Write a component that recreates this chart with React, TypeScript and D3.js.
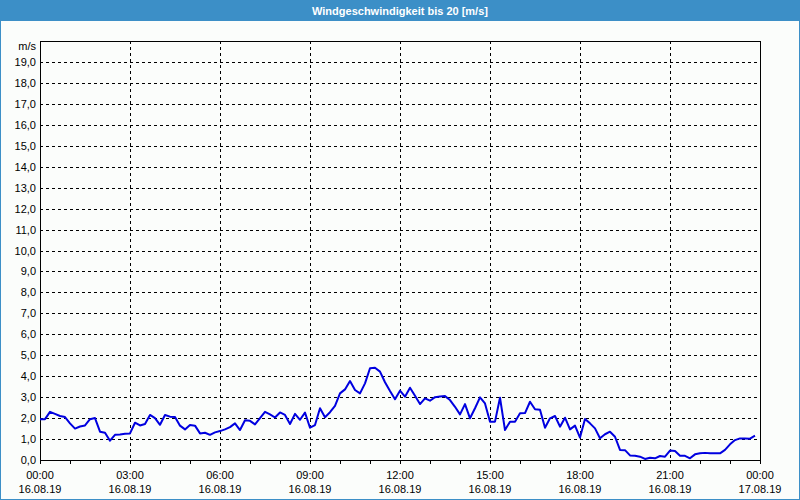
import React from "react";
import * as d3 from "d3";

const TITLE = "Windgeschwindigkeit bis 20 [m/s]";
const UNIT = "m/s";
const Y_TICKS = [0, 1, 2, 3, 4, 5, 6, 7, 8, 9, 10, 11, 12, 13, 14, 15, 16, 17, 18, 19];
const X_LABEL_HOURS = [0, 3, 6, 9, 12, 15, 18, 21, 24];
const X_LABEL_TIMES = ["00:00", "03:00", "06:00", "09:00", "12:00", "15:00", "18:00", "21:00", "00:00"];
const X_LABEL_DATES = ["16.08.19", "16.08.19", "16.08.19", "16.08.19", "16.08.19", "16.08.19", "16.08.19", "16.08.19", "17.08.19"];
const STEP_MINUTES = 10;
const WIND = [
  1.95, 1.95, 2.3, 2.2, 2.1, 2.05, 1.75, 1.5, 1.6, 1.65, 1.95, 2.0,
  1.35, 1.3, 0.92, 1.2, 1.22, 1.25, 1.27, 1.78, 1.65, 1.72, 2.15, 2.0,
  1.68, 2.15, 2.07, 2.05, 1.64, 1.46, 1.67, 1.64, 1.27, 1.3, 1.2, 1.32,
  1.38, 1.46, 1.57, 1.75, 1.43, 1.9, 1.87, 1.7, 2.0, 2.3, 2.18, 2.03,
  2.27, 2.15, 1.72, 2.2, 1.92, 2.26, 1.54, 1.67, 2.47, 2.04, 2.28, 2.58,
  3.18, 3.37, 3.77, 3.34, 3.18, 3.66, 4.38, 4.4, 4.22, 3.71, 3.29, 2.9,
  3.31, 3.02, 3.45, 3.07, 2.67, 2.94, 2.83, 3.0, 3.03, 3.05, 2.86, 2.54,
  2.18, 2.67, 1.99, 2.47, 2.99, 2.7, 1.83, 1.83, 2.97, 1.43, 1.83, 1.83,
  2.23, 2.24, 2.78, 2.42, 2.4, 1.54, 1.99, 2.1, 1.59, 2.02, 1.46, 1.64,
  1.07, 1.96, 1.75, 1.51, 1.04, 1.23, 1.35, 1.11, 0.48, 0.47, 0.22, 0.2,
  0.16, 0.05, 0.11, 0.08, 0.19, 0.16, 0.45, 0.43, 0.2, 0.2, 0.08, 0.27,
  0.32, 0.34, 0.32, 0.32, 0.32, 0.48, 0.75, 0.95, 1.03, 1.03, 1.02, 1.16,
];

const W = 800;
const H = 500;
const L = 40;
const R = 760;
const T = 41;
const B = 460;
const BLUE = "#3c8fc7";
const FONT = "'Liberation Sans', Arial, sans-serif";

export default function App() {
  const x = d3.scaleLinear().domain([0, 24]).range([L, R]);
  const y = d3.scaleLinear().domain([0, 20]).range([B, T]);
  const line = d3
    .line<number>()
    .x((_, i) => x((i * STEP_MINUTES) / 60))
    .y((d) => y(d));
  const hours = d3.range(0, 25);
  return (
    <svg
      width={W}
      height={H}
      style={{ position: "absolute", left: 0, top: 0, display: "block" }}
      fontFamily={FONT}
    >
      <rect x={0} y={0} width={W} height={H} fill={BLUE} />
      <rect x={1} y={21} width={W - 2} height={H - 22} fill="#fbfdfb" />
      <text x={400} y={15} textAnchor="middle" fill="#ffffff" fontSize={11} fontWeight="bold">
        {TITLE}
      </text>
      {Y_TICKS.filter((v) => v > 0).map((v) => (
        <line
          key={"gy" + v}
          x1={L}
          x2={R}
          y1={Math.round(y(v)) + 0.5}
          y2={Math.round(y(v)) + 0.5}
          stroke="#000"
          strokeWidth={1}
          strokeDasharray="3,3"
        />
      ))}
      {X_LABEL_HOURS.filter((h) => h > 0 && h < 24).map((h) => (
        <line
          key={"gx" + h}
          x1={Math.round(x(h)) + 0.5}
          x2={Math.round(x(h)) + 0.5}
          y1={T}
          y2={B}
          stroke="#000"
          strokeWidth={1}
          strokeDasharray="3,3"
        />
      ))}
      {hours.map((h) => (
        <line
          key={"tx" + h}
          x1={Math.round(x(h)) + 0.5}
          x2={Math.round(x(h)) + 0.5}
          y1={B}
          y2={B + 4}
          stroke="#000"
          strokeWidth={1}
        />
      ))}
      <rect
        x={L + 0.5}
        y={T + 0.5}
        width={R - L}
        height={B - T}
        fill="none"
        stroke="#000"
        strokeWidth={1}
      />
      <path d={line(WIND) || ""} fill="none" stroke="#0000e0" strokeWidth={2} strokeLinejoin="round" />
      {Y_TICKS.map((v) => (
        <text key={"ly" + v} x={36} y={y(v) + 4} textAnchor="end" fontSize={11} fill="#000">
          {v.toFixed(1).replace(".", ",")}
        </text>
      ))}
      <text x={36} y={50} textAnchor="end" fontSize={11} fill="#000">
        {UNIT}
      </text>
      {X_LABEL_HOURS.map((h, i) => (
        <g key={"lx" + h}>
          <text x={x(h)} y={479} textAnchor="middle" fontSize={11} fill="#000">
            {X_LABEL_TIMES[i]}
          </text>
          <text x={x(h)} y={493} textAnchor="middle" fontSize={11} fill="#000">
            {X_LABEL_DATES[i]}
          </text>
        </g>
      ))}
    </svg>
  );
}
